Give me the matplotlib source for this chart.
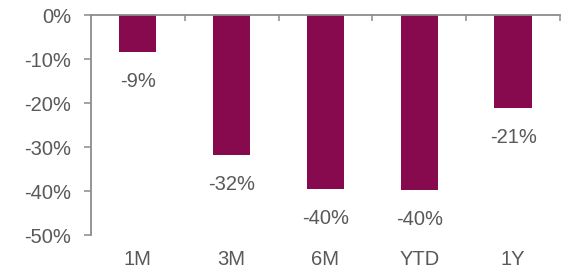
import matplotlib.pyplot as plt
import numpy as np

# performance by period (%)
periods = ["1M", "3M", "6M", "YTD", "1Y"]
returns = [-8.5, -31.8, -39.6, -39.8, -21.2]
labels = ["-9%", "-32%", "-40%", "-40%", "-21%"]

BAR_COLOR = "#870A4F"
AXIS_COLOR = "#8C8C8C"
TEXT_COLOR = "#595959"

plt.rcParams["font.family"] = ["Liberation Sans", "DejaVu Sans"]

fig = plt.figure(figsize=(5.71, 2.73), dpi=100)
ax = fig.add_axes([0.159, 0.139, 0.822, 0.806])

x = np.arange(len(periods))
ax.bar(x, returns, width=0.4, color=BAR_COLOR, zorder=2)

for xi, val, lab in zip(x, returns, labels):
    ax.annotate(lab, (xi, val), xytext=(0, -21), textcoords="offset points",
                ha="center", va="center", fontsize=14.5, color=TEXT_COLOR)

ax.set_xlim(-0.5, len(periods) - 0.5)
ax.set_ylim(-50, 0)
ax.set_yticks(np.arange(-50, 1, 10))
ax.set_yticklabels([f"{v}%" for v in range(-50, 1, 10)])
ax.set_xticks(x)
ax.set_xticklabels(periods)
ax.set_xticks(np.arange(0.5, len(periods), 1), minor=True)

for side in ("right", "bottom"):
    ax.spines[side].set_visible(False)
for side in ("left", "top"):
    ax.spines[side].set_color(AXIS_COLOR)
    ax.spines[side].set_linewidth(1.3)
    ax.spines[side].set_zorder(3)

ax.tick_params(axis="y", direction="out", length=5, width=1.1, color=AXIS_COLOR,
               labelsize=14.5, labelcolor=TEXT_COLOR, pad=9)
ax.tick_params(axis="x", which="both", bottom=False, top=True, direction="in",
               length=4, width=1.1, color=AXIS_COLOR, labelbottom=True,
               labeltop=False, labelsize=14.5, labelcolor=TEXT_COLOR, pad=11)

fig.savefig("out.png", dpi=100)
